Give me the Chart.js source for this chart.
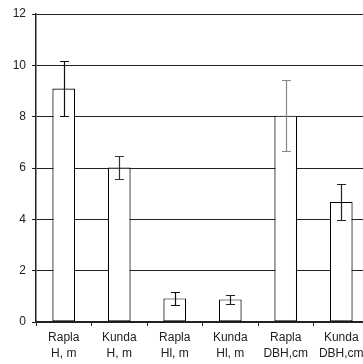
<!DOCTYPE html>
<html>
<head>
<meta charset="utf-8">
<script src="https://cdn.jsdelivr.net/npm/chart.js@4/dist/chart.umd.min.js"></script>
<style>
  html, body { margin: 0; padding: 0; background: #fff; overflow: hidden; }
  #wrap { width: 369px; height: 364px; }
</style>
</head>
<body>
<div id="wrap"><canvas id="c" width="369" height="364"></canvas></div>
<script>
// Site / variable labels (two lines each)
const sites = ['Rapla', 'Kunda', 'Rapla', 'Kunda', 'Rapla', 'Kunda'];
const variables = ['H, m', 'H, m', 'Hl, m', 'Hl, m', 'DBH,cm', 'DBH,cm'];
// Means and standard deviations
const means = [9.1, 6.02, 0.92, 0.88, 8.04, 4.68];
const errors = [1.07, 0.46, 0.26, 0.17, 1.37, 0.69];
const yTicks = [0, 2, 4, 6, 8, 10, 12];

const errColors = ['#111', '#333', '#111', '#222', '#888', '#222'];

// Whiskers: mean ± SD, drawn on top of the bars
const errorBars = {
  id: 'errorBars',
  afterDatasetsDraw(chart) {
    const ctx = chart.ctx;
    const meta = chart.getDatasetMeta(0);
    const y = chart.scales.y;
    ctx.save();
    ctx.lineWidth = 1.2;
    meta.data.forEach((bar, i) => {
      const x = Math.round(bar.x) + 0.5;
      const top = Math.round(y.getPixelForValue(means[i] + errors[i])) + 0.5;
      const bot = Math.round(y.getPixelForValue(means[i] - errors[i])) + 0.5;
      ctx.strokeStyle = errColors[i];
      ctx.beginPath();
      ctx.moveTo(x, top); ctx.lineTo(x, bot);
      ctx.moveTo(x - 4.5, top); ctx.lineTo(x + 4.5, top);
      ctx.moveTo(x - 4.5, bot); ctx.lineTo(x + 4.5, bot);
      ctx.stroke();
    });
    ctx.restore();
  }
};

new Chart(document.getElementById('c'), {
  type: 'bar',
  data: {
    labels: sites.map((s, i) => [s, variables[i]]),
    datasets: [{
      data: means,
      backgroundColor: '#ffffff',
      borderColor: '#000',
      borderWidth: 1.2,
      borderSkipped: false,
      categoryPercentage: 1,
      barPercentage: 0.41
    }]
  },
  options: {
    responsive: false,
    animation: false,
    devicePixelRatio: 1,
    layout: { padding: { top: 14, right: 0, left: 0, bottom: 0 } },
    plugins: { legend: { display: false }, tooltip: { enabled: false } },
    scales: {
      x: {
        grid: { display: true, drawOnChartArea: false, drawTicks: true, tickLength: 4, color: '#222', offset: true },
        border: { display: true, color: '#222', width: 1.5 },
        ticks: { color: '#222', font: { family: 'Liberation Sans, Arial, sans-serif', size: 12, lineHeight: 1.3 }, padding: 4, maxRotation: 0, autoSkip: false },
        afterFit(scale) { scale.height = 42; }
      },
      y: {
        min: 0, max: 12,
        afterBuildTicks(scale) { scale.ticks = yTicks.map(v => ({ value: v })); },
        grid: { color: '#222', lineWidth: 1, tickLength: 4 },
        border: { display: true, color: '#222', width: 1.5 },
        ticks: { color: '#222', font: { family: 'Liberation Sans, Arial, sans-serif', size: 12 }, padding: 6 },
        afterFit(scale) { scale.width = 36; }
      }
    }
  },
  plugins: [errorBars]
});
</script>
</body>
</html>
